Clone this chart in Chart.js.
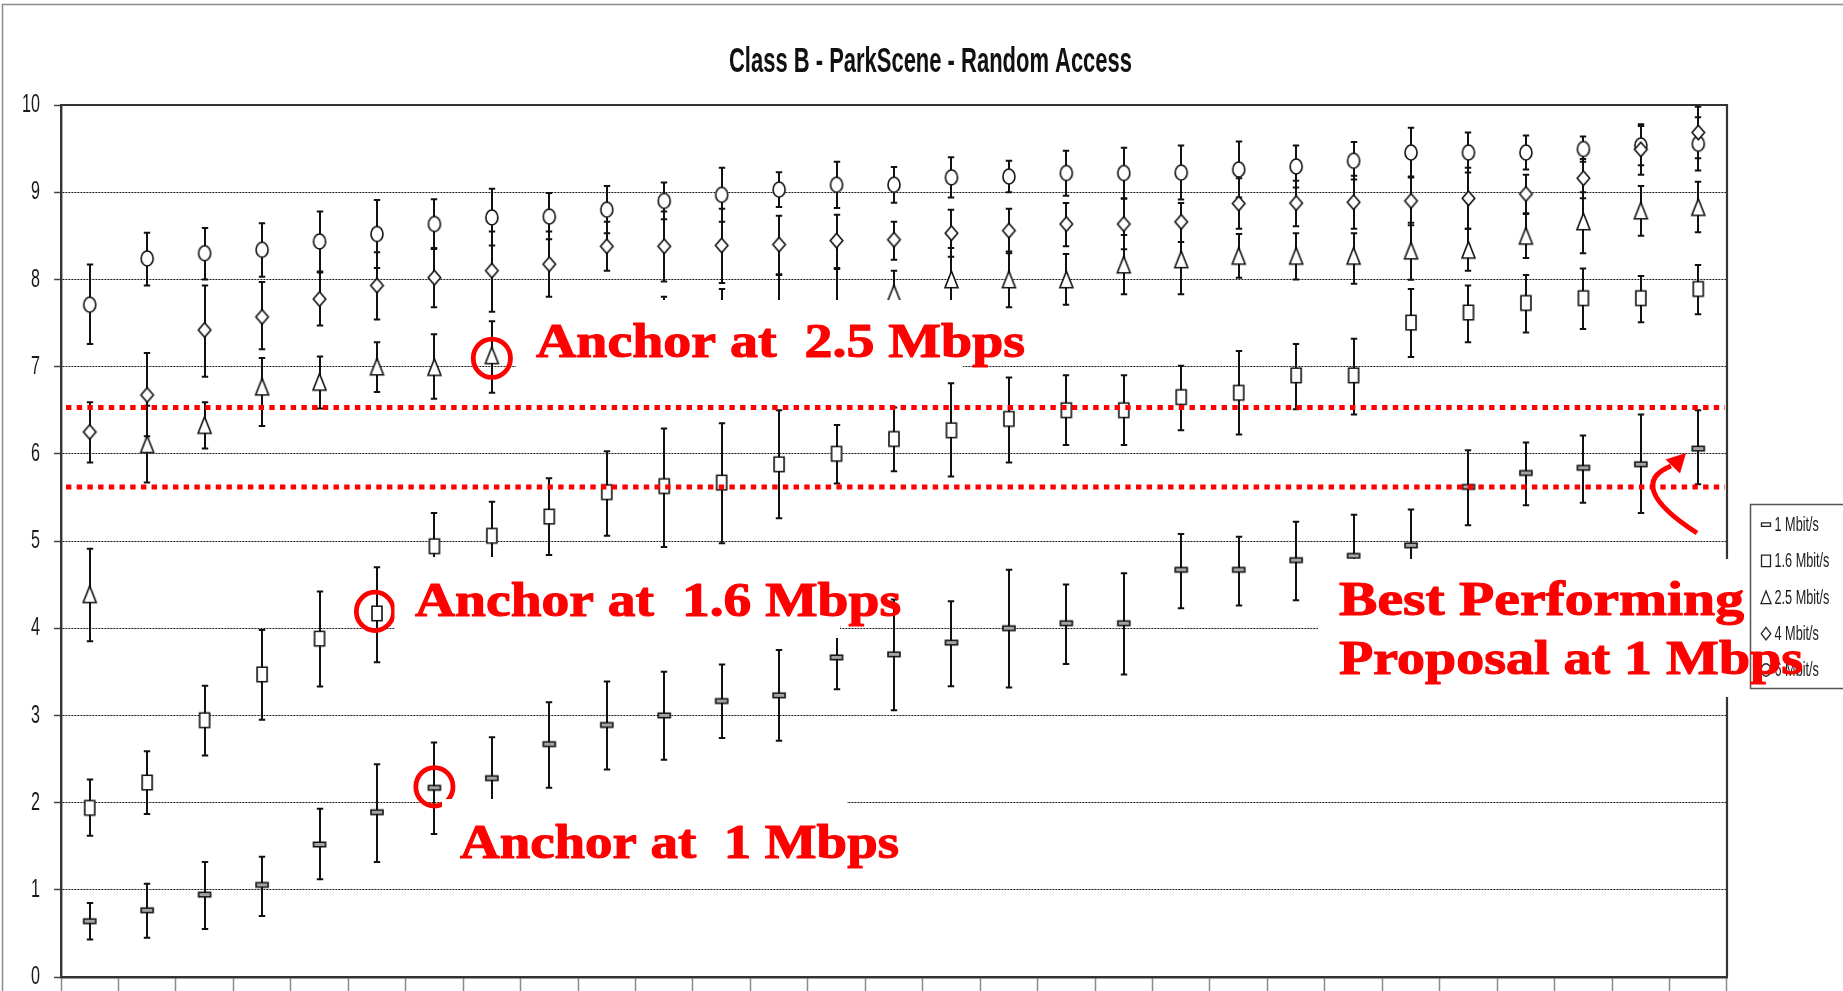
<!DOCTYPE html>
<html>
<head>
<meta charset="utf-8">
<title>Class B - ParkScene - Random Access</title>
<script src="https://cdn.jsdelivr.net/npm/chart.js@4.4.1/dist/chart.umd.min.js"></script>
<style>
  html, body { margin: 0; padding: 0; background: #ffffff; }
  #wrap { width: 1843px; height: 991px; position: relative; }
  canvas { display: block; }
</style>
</head>
<body>
<div id="wrap"><canvas id="chart" width="1843" height="991"></canvas></div>
<script>
// ---- categories (proposals) ----
const categories = ['1','2','3','4','5','6','7','8','9','10','11','12','13','14','15',
                    '16','17','18','19','20','21','22','23','24','25','26','27','28','29'];

// ---- y-axis ticks ----
const yMin = 0, yMax = 10, yStep = 1;

// ---- 1 Mbit/s : mean and confidence interval ----
const rate1Mean = [0.64,0.765,0.945,1.056,1.52,1.89,2.17,2.28,2.67,2.89,3.0,3.165,3.23,3.665,3.70,
                   3.835,4.0,4.057,4.057,4.67,4.67,4.78,4.83,4.95,5.62,5.78,5.84,5.88,6.06];
const rate1High = [0.85,1.07,1.32,1.38,1.93,2.44,2.69,2.75,3.15,3.39,3.50,3.585,3.75,4.02,4.33,
                   4.31,4.67,4.50,4.63,5.08,5.05,5.22,5.30,5.36,6.04,6.13,6.21,6.45,6.50];
const rate1Low  = [0.43,0.45,0.55,0.70,1.12,1.32,1.64,1.81,2.17,2.38,2.49,2.74,2.71,3.30,3.06,
                   3.335,3.32,3.59,3.47,4.23,4.26,4.32,4.38,4.52,5.18,5.41,5.44,5.32,5.65];

// ---- 1.6 Mbit/s ----
const rate16Mean = [1.94,2.23,2.945,3.47,3.88,4.17,4.94,5.06,5.28,5.56,5.63,5.67,5.88,6.0,6.17,
                    6.27,6.40,6.50,6.50,6.65,6.70,6.90,6.90,7.505,7.62,7.73,7.785,7.785,7.89];
const rate16High = [2.265,2.59,3.34,3.98,4.42,4.70,5.32,5.45,5.72,6.03,6.29,6.35,6.50,6.33,6.53,
                    6.81,6.875,6.90,6.90,7.01,7.18,7.26,7.32,7.89,7.93,8.05,8.125,8.04,8.165];
const rate16Low  = [1.62,1.87,2.54,2.95,3.33,3.61,4.56,4.68,4.84,5.06,4.93,4.975,5.26,5.66,5.80,
                    5.74,5.90,6.10,6.10,6.27,6.22,6.51,6.45,7.11,7.28,7.39,7.43,7.51,7.60];

// ---- 2.5 Mbit/s ----
const rate25Mean = [4.39,6.11,6.33,6.77,6.825,7.0,6.995,7.13,7.25,7.32,7.42,7.50,7.62,7.66,7.84,
                    8.0,8.0,8.0,8.17,8.23,8.27,8.27,8.27,8.33,8.34,8.50,8.665,8.79,8.83];
const rate25High = [4.91,6.55,6.59,7.10,7.115,7.28,7.37,7.52,7.62,7.70,7.80,7.89,8.05,8.12,8.10,
                    8.36,8.32,8.29,8.51,8.63,8.52,8.53,8.53,8.65,8.58,8.75,9.0,9.07,9.12];
const rate25Low  = [3.85,5.67,6.06,6.32,6.52,6.71,6.63,6.70,6.88,6.94,7.04,7.11,7.19,7.20,7.58,
                    7.64,7.68,7.71,7.83,7.83,8.02,8.0,7.95,7.995,8.10,8.245,8.30,8.50,8.54];

// ---- 4 Mbit/s ----
const rate4Mean = [6.25,6.675,7.42,7.57,7.775,7.93,8.02,8.10,8.175,8.38,8.38,8.39,8.40,8.445,8.455,
                   8.53,8.56,8.635,8.635,8.66,8.87,8.875,8.885,8.90,8.93,8.98,9.16,9.49,9.685];
const rate4High = [6.59,7.155,7.93,7.97,8.08,8.31,8.36,8.55,8.55,8.66,8.78,8.81,8.73,8.74,8.66,
                   8.80,8.81,8.875,8.925,8.875,9.16,9.13,9.19,9.18,9.28,9.20,9.38,9.78,9.98];
const rate4Low  = [5.90,6.20,6.885,7.20,7.47,7.54,7.68,7.63,7.80,8.10,7.975,7.96,8.06,8.13,8.225,
                   8.26,8.30,8.38,8.345,8.43,8.58,8.61,8.58,8.62,8.58,8.76,8.93,9.20,9.39];

// ---- 6 Mbit/s ----
const rate6Mean = [7.71,8.24,8.30,8.34,8.435,8.52,8.635,8.71,8.72,8.80,8.90,8.97,9.03,9.085,9.085,
                   9.17,9.18,9.22,9.22,9.225,9.26,9.295,9.36,9.455,9.455,9.455,9.495,9.535,9.555];
const rate6High = [8.17,8.535,8.59,8.645,8.78,8.91,8.92,9.04,8.99,9.07,9.11,9.28,9.23,9.35,9.29,
                   9.40,9.36,9.475,9.51,9.535,9.58,9.535,9.575,9.74,9.685,9.65,9.64,9.76,9.86];
const rate6Low  = [7.26,7.93,8.0,8.03,8.09,8.13,8.35,8.39,8.46,8.53,8.69,8.66,8.83,8.82,8.88,
                   8.94,9.0,8.96,8.93,8.915,8.94,9.055,9.145,9.17,9.225,9.26,9.35,9.31,9.25];

// ---- series labels ----
const seriesLabels = ['1 Mbit/s', '1.6 Mbit/s', '2.5 Mbit/s', '4 Mbit/s', '6 Mbit/s'];

// ---- red dotted reference levels ----
const referenceLevels = [6.53, 5.62];

// ---- circled anchor points: series index, category index ----
const anchorSeries = [2, 1, 0];
const anchorIndex  = [7, 5, 6];

// ---------------------------------------------------------------
// marker glyphs
function traceShape(g, kind, cx, cy, w, h) {
  g.beginPath();
  if (kind === 'dash' || kind === 'square') {
    g.rect(cx - w / 2, cy - h / 2, w, h);
  } else if (kind === 'triangle') {
    g.moveTo(cx, cy - h / 2); g.lineTo(cx + w / 2, cy + h / 2); g.lineTo(cx - w / 2, cy + h / 2); g.closePath();
  } else if (kind === 'diamond') {
    g.moveTo(cx, cy - h / 2); g.lineTo(cx + w / 2, cy); g.lineTo(cx, cy + h / 2); g.lineTo(cx - w / 2, cy); g.closePath();
  } else {
    g.ellipse(cx, cy, w / 2, h / 2, 0, 0, Math.PI * 2);
  }
}
function markerCanvas(kind, w, h, lw, fill) {
  const pad = Math.ceil(lw) + 1;
  const c = document.createElement('canvas');
  c.width = Math.ceil(w + 2 * pad);
  c.height = Math.ceil(h + 2 * pad);
  const g = c.getContext('2d');
  traceShape(g, kind, c.width / 2, c.height / 2, w, h);
  g.fillStyle = fill; g.fill();
  g.lineWidth = lw; g.strokeStyle = '#111'; g.stroke();
  return c;
}

const markerKinds = ['dash', 'square', 'triangle', 'diamond', 'circle'];
const markerSizes = [[12, 4.5], [10, 14.5], [13, 16.5], [12.5, 14.5], [12, 15]];
const markerFills = ['#a3a3a3', '#ffffff', '#ffffff', '#ffffff', '#ffffff'];
const legendSizes = [[9, 3.5], [9, 11.5], [10, 12.5], [9.5, 12.5], [9.5, 12.5]];

const means = [rate1Mean, rate16Mean, rate25Mean, rate4Mean, rate6Mean];
const highs = [rate1High, rate16High, rate25High, rate4High, rate6High];
const lows  = [rate1Low, rate16Low, rate25Low, rate4Low, rate6Low];

const datasets = seriesLabels.map((label, k) => ({
  label: label,
  data: means[k],
  errHigh: highs[k],
  errLow: lows[k],
  showLine: false,
  pointStyle: markerCanvas(markerKinds[k], markerSizes[k][0], markerSizes[k][1], 1.6, markerFills[k]),
  pointRadius: 7,
  pointHoverRadius: 7,
  borderColor: '#111',
  backgroundColor: '#fff'
}));

// annotation text boxes (white-filled) and their captions
const noteBoxes = [
  { x0: 516, y0: 300, x1: 963, y1: 380 },
  { x0: 394.5, y0: 557, x1: 840, y1: 638 },
  { x0: 442, y0: 799, x1: 847, y1: 876 },
  { x0: 1318, y0: 559, x1: 1748, y1: 697 }
];
const noteLines = [
  { text: 'Anchor at  2.5 Mbps', left: 536, right: 1025, base: 356.7 },
  { text: 'Anchor at  1.6 Mbps', left: 415, right: 901, base: 616 },
  { text: 'Anchor at  1 Mbps', left: 460, right: 899, base: 858 },
  { text: 'Best Performing', left: 1339, right: 1744, base: 615 },
  { text: 'Proposal at 1 Mbps', left: 1339, right: 1803, base: 673.6 }
];
// ring centre nudges relative to the circled point (px)
const ringShiftX = [0, -2, 0];
const ringShiftY = [3, -2, -1];

function fitText(ctx, str, left, right, base, font, color, outline) {
  ctx.save();
  ctx.font = font;
  ctx.fillStyle = color;
  ctx.textAlign = 'left';
  ctx.textBaseline = 'alphabetic';
  const w = ctx.measureText(str).width;
  ctx.translate(left, base);
  ctx.scale((right - left) / w, 1);
  ctx.fillText(str, 0, 0);
  if (outline) {
    ctx.strokeStyle = color;
    ctx.lineWidth = outline;
    ctx.lineJoin = 'round';
    ctx.strokeText(str, 0, 0);
  }
  ctx.restore();
}

const slideOverlay = {
  id: 'slideOverlay',
  beforeDraw(chart) {
    // condensed tick labels on the value axis
    const ys = chart.scales.y;
    if (!ys._condensed) {
      const orig = ys.drawLabels.bind(ys);
      ys.drawLabels = function (area) {
        const c = chart.ctx;
        const ax = ys.right - 7 - 14;
        c.save();
        c.translate(ax, 0); c.scale(0.62, 1); c.translate(-ax, 0);
        orig(area);
        c.restore();
      };
      ys._condensed = true;
    }
  },
  beforeDatasetsDraw(chart) {
    const ctx = chart.ctx, a = chart.chartArea;
    const xs = chart.scales.x, ys = chart.scales.y;
    // top and right edges of the plot frame
    ctx.save();
    ctx.strokeStyle = '#333';
    ctx.lineWidth = 2.2;
    ctx.beginPath();
    ctx.moveTo(a.left, a.top); ctx.lineTo(a.right, a.top); ctx.lineTo(a.right, a.bottom);
    ctx.stroke();
    ctx.restore();
    // error bars
    ctx.save();
    ctx.strokeStyle = '#111';
    ctx.lineWidth = 2;
    chart.data.datasets.forEach(ds => {
      ds.data.forEach((v, i) => {
        const x = Math.round(xs.getPixelForValue(i));
        const yh = ys.getPixelForValue(ds.errHigh[i]);
        const yl = ys.getPixelForValue(ds.errLow[i]);
        ctx.beginPath();
        ctx.moveTo(x, yh); ctx.lineTo(x, yl);
        ctx.moveTo(x - 3.2, yh); ctx.lineTo(x + 3.2, yh);
        ctx.moveTo(x - 3.2, yl); ctx.lineTo(x + 3.2, yl);
        ctx.stroke();
      });
    });
    ctx.restore();
  },
  afterDatasetsDraw(chart) {
    const ctx = chart.ctx, a = chart.chartArea;
    const xs = chart.scales.x, ys = chart.scales.y;
    // red dotted reference levels
    ctx.save();
    ctx.strokeStyle = '#ff0000';
    ctx.lineWidth = 5;
    ctx.setLineDash([5.4, 5.3]);
    referenceLevels.forEach(v => {
      const y = ys.getPixelForValue(v);
      ctx.beginPath(); ctx.moveTo(a.left + 5, y); ctx.lineTo(a.right - 2, y); ctx.stroke();
    });
    ctx.restore();
    // red rings round the anchor points
    ctx.save();
    ctx.strokeStyle = '#ff0000';
    ctx.lineWidth = 4.8;
    anchorSeries.forEach((s, k) => {
      const i = anchorIndex[k];
      const cx = xs.getPixelForValue(i) + ringShiftX[k];
      const cy = ys.getPixelForValue(means[s][i]) + ringShiftY[k];
      ctx.beginPath(); ctx.ellipse(cx, cy, 18.6, 19.2, 0, 0, Math.PI * 2); ctx.stroke();
    });
    ctx.restore();
    // white caption boxes
    ctx.save();
    ctx.fillStyle = '#ffffff';
    noteBoxes.forEach(b => ctx.fillRect(b.x0, b.y0, b.x1 - b.x0, b.y1 - b.y0));
    ctx.restore();
  },
  afterDraw(chart) {
    const ctx = chart.ctx;
    // legend
    const lx = 1750.5, ly = 504.5, lh = 184;
    ctx.save();
    ctx.fillStyle = '#fff';
    ctx.fillRect(lx, ly, 120, lh);
    ctx.strokeStyle = '#555';
    ctx.lineWidth = 1.5;
    ctx.strokeRect(lx, ly, 120, lh);
    chart.data.datasets.forEach((ds, k) => {
      const cy = 524.6 + k * 36.35;
      traceShape(ctx, markerKinds[k], 1766, cy, legendSizes[k][0], legendSizes[k][1]);
      ctx.fillStyle = '#fff'; ctx.fill();
      ctx.lineWidth = 1.3; ctx.strokeStyle = '#222'; ctx.stroke();
      ctx.save();
      ctx.font = '19.5px "Liberation Sans", Arial, sans-serif';
      ctx.fillStyle = '#1a1a1a';
      ctx.textBaseline = 'middle';
      ctx.textAlign = 'left';
      ctx.translate(1774.5, cy + 1);
      ctx.scale(0.65, 1);
      ctx.fillText(ds.label, 0, 0);
      ctx.restore();
    });
    ctx.restore();

    // red captions
    noteLines.forEach(n => fitText(ctx, n.text, n.left, n.right, n.base,
      'bold 48px "Liberation Serif", "Times New Roman", serif', '#ff0000', 1.1));

    // curved arrow towards the best 1 Mbit/s point
    ctx.save();
    ctx.strokeStyle = '#ff0000';
    ctx.fillStyle = '#ff0000';
    ctx.lineWidth = 5;
    ctx.beginPath();
    ctx.moveTo(1697, 533);
    ctx.bezierCurveTo(1647, 501, 1641, 478, 1671, 466);
    ctx.stroke();
    ctx.beginPath();
    ctx.moveTo(1686, 453);
    ctx.lineTo(1680, 473.5);
    ctx.lineTo(1665.5, 459.5);
    ctx.closePath();
    ctx.fill();
    ctx.restore();

    // title
    fitText(ctx, 'Class B - ParkScene - Random Access', 729, 1132, 71.7,
      'bold 35px "Liberation Sans", Arial, sans-serif', '#111', 0);

    // outer frame of the chart object
    ctx.save();
    ctx.strokeStyle = '#8c8c8c';
    ctx.lineWidth = 1.5;
    ctx.beginPath();
    ctx.moveTo(2.5, 991); ctx.lineTo(2.5, 4.5); ctx.lineTo(1843, 4.5);
    ctx.stroke();
    ctx.restore();
  }
};

new Chart(document.getElementById('chart'), {
  type: 'line',
  data: { labels: categories, datasets: datasets },
  options: {
    responsive: false,
    animation: false,
    devicePixelRatio: 1,
    layout: { padding: { top: 105, right: 116, bottom: 0, left: 0 } },
    plugins: {
      legend: { display: false },
      title: { display: false },
      tooltip: { enabled: false }
    },
    scales: {
      x: {
        type: 'category',
        offset: true,
        grid: {
          display: true, offset: true, drawOnChartArea: false, drawTicks: true,
          tickLength: 14, tickColor: '#8a8a8a', tickWidth: 1.5
        },
        ticks: { display: false },
        border: { display: true, color: '#333', width: 2.4 },
        afterFit(s) { s.height = 14; s.paddingLeft = 0; s.paddingRight = 0; s.paddingTop = 0; s.paddingBottom = 0; }
      },
      y: {
        min: yMin, max: yMax,
        ticks: {
          stepSize: yStep, padding: 14, color: '#1a1a1a',
          font: { family: '"Liberation Sans", Arial, sans-serif', size: 26 }
        },
        grid: {
          color: '#1a1a1a', lineWidth: 1, drawTicks: true, tickLength: 7,
          tickColor: '#444', tickWidth: 1.5
        },
        border: { display: true, color: '#333', width: 2.4, dash: [2, 1] },
        afterFit(s) { s.width = 61; s.paddingTop = 0; s.paddingBottom = 0; s.paddingLeft = 0; s.paddingRight = 0; }
      }
    }
  },
  plugins: [slideOverlay]
});
</script>
</body>
</html>
